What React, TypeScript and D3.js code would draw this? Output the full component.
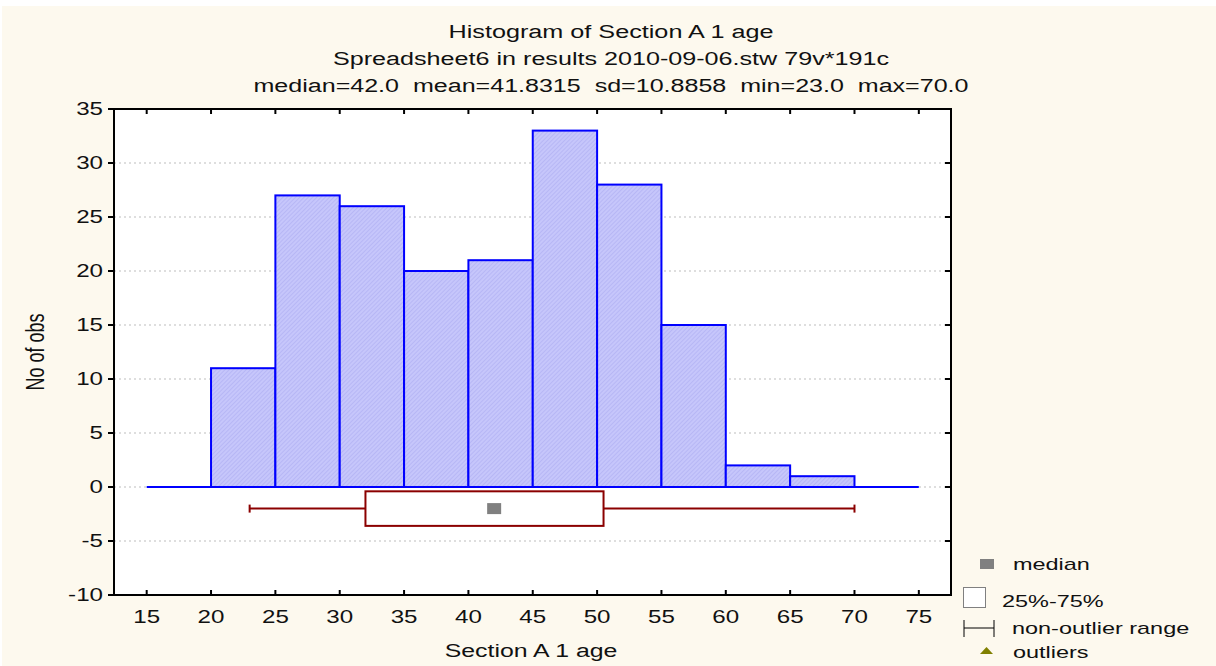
import React from "react";
import * as d3 from "d3";

const binStarts = [20, 25, 30, 35, 40, 45, 50, 55, 60, 65];
const binWidth = 5;
const counts = [11, 27, 26, 20, 21, 33, 28, 15, 2, 1];
const xTicks = [15, 20, 25, 30, 35, 40, 45, 50, 55, 60, 65, 70, 75];
const yTicks = [-10, -5, 0, 5, 10, 15, 20, 25, 30, 35];
const box = { min: 23, q1: 32, median: 42, q3: 50.5, max: 70, center: -2, half: 1.6 };
const titleLines = [
  "Histogram of Section A 1 age",
  "Spreadsheet6 in results 2010-09-06.stw 79v*191c",
  "median=42.0  mean=41.8315  sd=10.8858  min=23.0  max=70.0",
];
const titleWidths = [325, 556, 715];
const legendLabels = ["median", "25%-75%", "non-outlier range", "outliers"];

const W = 1216;
const H = 666;
const plot = { left: 114, right: 951, top: 109, bottom: 595 };
const font = "'Liberation Sans', Arial, sans-serif";
const SX = 1.38;

function T(props: { x: number; y: number; anchor?: string; size: number; children: any }) {
  const { x, y, anchor, size, children } = props;
  return (
    <text transform={`translate(${x},${y}) scale(${SX},1)`} textAnchor={anchor || "start"}
      fontSize={size} fill="#111">{children}</text>
  );
}

export default function App() {
  const x = d3.scaleLinear().domain([12.46, 77.5]).range([plot.left, plot.right]);
  const y = d3.scaleLinear().domain([-10, 35]).range([plot.bottom, plot.top]);
  const blue = "#0000ff";
  const red = "#8b0000";

  return (
    <svg width={W} height={H} style={{ position: "absolute", left: 0, top: 0 }} fontFamily={font}>
      <defs>
        <pattern id="hatch" width="3" height="3" patternUnits="userSpaceOnUse" patternTransform="rotate(45)">
          <rect width="3" height="3" fill="#c6c6fb" />
          <line x1="0" y1="0" x2="0" y2="3" stroke="#a8a8f0" strokeWidth="1" />
        </pattern>
      </defs>
      <rect x={0} y={0} width={W} height={H} fill="#ffffff" />
      <rect x={2} y={6} width={W - 2} height={H - 6} fill="#fdf9ee" />
      {titleLines.map((t, i) => (
        <text key={i} x={611} y={38 + i * 27} textAnchor="middle" fontSize={18} fill="#111"
          style={{ whiteSpace: "pre" }}
          textLength={titleWidths[i]} lengthAdjust="spacingAndGlyphs">{t}</text>
      ))}
      <rect x={plot.left} y={plot.top} width={plot.right - plot.left} height={plot.bottom - plot.top} fill="#ffffff" />
      {yTicks.filter((v) => v !== -10 && v !== 35).map((v) => (
        <line key={"g" + v} x1={plot.left} x2={plot.right} y1={y(v)} y2={y(v)}
          stroke="#bdbdbd" strokeWidth={1} strokeDasharray="2,3" />
      ))}
      {binStarts.map((b, i) => (
        <rect key={"bar" + b} x={x(b)} y={y(counts[i])} width={x(b + binWidth) - x(b)}
          height={y(0) - y(counts[i])} fill="url(#hatch)" stroke={blue} strokeWidth={2} />
      ))}
      <line x1={x(15)} x2={x(75)} y1={y(0)} y2={y(0)} stroke={blue} strokeWidth={2} />
      {/* box plot */}
      <line x1={x(box.min)} x2={x(box.q1)} y1={y(box.center)} y2={y(box.center)} stroke={red} strokeWidth={2} />
      <line x1={x(box.q3)} x2={x(box.max)} y1={y(box.center)} y2={y(box.center)} stroke={red} strokeWidth={2} />
      <line x1={x(box.min)} x2={x(box.min)} y1={y(box.center) - 4} y2={y(box.center) + 4} stroke={red} strokeWidth={2} />
      <line x1={x(box.max)} x2={x(box.max)} y1={y(box.center) - 4} y2={y(box.center) + 4} stroke={red} strokeWidth={2} />
      <rect x={x(box.q1)} y={y(box.center + box.half)} width={x(box.q3) - x(box.q1)}
        height={y(box.center - box.half) - y(box.center + box.half)} fill="#ffffff" stroke={red} strokeWidth={2} />
      <rect x={x(box.median) - 7} y={y(box.center) - 5.5} width={14} height={11} fill="#808080" />
      {/* frame */}
      <rect x={plot.left} y={plot.top} width={plot.right - plot.left} height={plot.bottom - plot.top}
        fill="none" stroke="#000" strokeWidth={2} />
      {yTicks.map((v) => (
        <g key={"yt" + v}>
          <line x1={plot.left - 6} x2={plot.left} y1={y(v)} y2={y(v)} stroke="#000" strokeWidth={2} />
          <line x1={plot.right - 6} x2={plot.right} y1={y(v)} y2={y(v)} stroke="#000" strokeWidth={2} />
          <T x={103} y={y(v) + 6.3} anchor="end" size={17.5}>{v}</T>
        </g>
      ))}
      {xTicks.map((v) => (
        <g key={"xt" + v}>
          <line x1={x(v)} x2={x(v)} y1={plot.top} y2={plot.top + 5} stroke="#000" strokeWidth={2} />
          <line x1={x(v)} x2={x(v)} y1={plot.bottom - 5} y2={plot.bottom} stroke="#000" strokeWidth={2} />
          <T x={x(v)} y={622.5} anchor="middle" size={17.5}>{v}</T>
        </g>
      ))}
      <T x={531} y={657} anchor="middle" size={18}>Section A 1 age</T>
      <text transform={`translate(44,352) rotate(-90) scale(1,${SX})`} textAnchor="middle" fontSize={18} fill="#111">No of obs</text>
      {/* legend */}
      <rect x={980} y={559} width={14} height={10} fill="#808080" />
      <T x={1013} y={570} size={17}>{legendLabels[0]}</T>
      <rect x={963.5} y={587.5} width={22} height={20} fill="#ffffff" stroke="#808080" strokeWidth={1} />
      <T x={1002} y={607} size={17}>{legendLabels[1]}</T>
      <line x1={964} x2={994} y1={628} y2={628} stroke="#000" strokeWidth={1} />
      <line x1={964} x2={964} y1={620} y2={637} stroke="#000" strokeWidth={1} />
      <line x1={994} x2={994} y1={620} y2={637} stroke="#000" strokeWidth={1} />
      <T x={1012} y={634} size={17}>{legendLabels[2]}</T>
      <path d="M980,654 L993,654 L986.5,647 Z" fill="#808000" />
      <T x={1013} y={658} size={17}>{legendLabels[3]}</T>
    </svg>
  );
}
